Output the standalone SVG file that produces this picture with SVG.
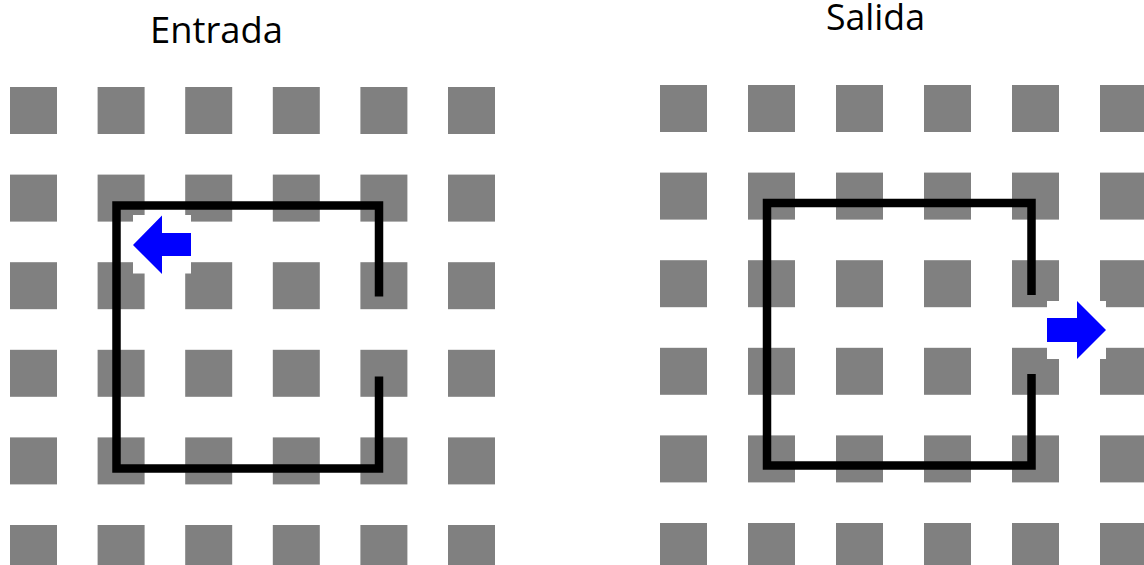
<svg xmlns="http://www.w3.org/2000/svg" width="1144" height="565" viewBox="0 0 1144 565">
<defs>
<style>
.sq{fill:#808080}
.path{fill:none;stroke:#000;stroke-width:8.5;stroke-linejoin:miter}
.arrow{fill:#0000ff}
.title{font-family:"Open Sans","Noto Sans",sans-serif;font-size:37px;fill:#000}
</style>
<rect id="s" width="47" height="47" class="sq"/>
<rect id="t" width="47" height="46.5" class="sq"/>
</defs>
<rect width="1144" height="565" fill="#fff"/>
<text class="title" x="150" y="43" textLength="133" lengthAdjust="spacingAndGlyphs">Entrada</text>
<text class="title" x="826" y="30" textLength="99" lengthAdjust="spacingAndGlyphs">Salida</text>
<g id="grid-left">
<g transform="translate(10,0)"><use href="#s" y="87"/><use href="#s" y="174.6"/><use href="#s" y="262.2"/><use href="#s" y="349.8"/><use href="#s" y="437.4"/><use href="#s" y="525"/></g>
<g transform="translate(97.6,0)"><use href="#s" y="87"/><use href="#s" y="174.6"/><use href="#s" y="262.2"/><use href="#s" y="349.8"/><use href="#s" y="437.4"/><use href="#s" y="525"/></g>
<g transform="translate(185.2,0)"><use href="#s" y="87"/><use href="#s" y="174.6"/><use href="#s" y="262.2"/><use href="#s" y="349.8"/><use href="#s" y="437.4"/><use href="#s" y="525"/></g>
<g transform="translate(272.8,0)"><use href="#s" y="87"/><use href="#s" y="174.6"/><use href="#s" y="262.2"/><use href="#s" y="349.8"/><use href="#s" y="437.4"/><use href="#s" y="525"/></g>
<g transform="translate(360.4,0)"><use href="#s" y="87"/><use href="#s" y="174.6"/><use href="#s" y="262.2"/><use href="#s" y="349.8"/><use href="#s" y="437.4"/><use href="#s" y="525"/></g>
<g transform="translate(448,0)"><use href="#s" y="87"/><use href="#s" y="174.6"/><use href="#s" y="262.2"/><use href="#s" y="349.8"/><use href="#s" y="437.4"/><use href="#s" y="525"/></g>
</g>
<g id="grid-right">
<g transform="translate(660,0)"><use href="#s" y="85"/><use href="#s" y="172.6"/><use href="#s" y="260.2"/><use href="#s" y="347.8"/><use href="#s" y="435.4"/><use href="#s" y="523"/></g>
<g transform="translate(748,0)"><use href="#s" y="85"/><use href="#s" y="172.6"/><use href="#s" y="260.2"/><use href="#s" y="347.8"/><use href="#s" y="435.4"/><use href="#s" y="523"/></g>
<g transform="translate(836,0)"><use href="#s" y="85"/><use href="#s" y="172.6"/><use href="#s" y="260.2"/><use href="#s" y="347.8"/><use href="#s" y="435.4"/><use href="#s" y="523"/></g>
<g transform="translate(924,0)"><use href="#s" y="85"/><use href="#s" y="172.6"/><use href="#s" y="260.2"/><use href="#s" y="347.8"/><use href="#s" y="435.4"/><use href="#s" y="523"/></g>
<g transform="translate(1012,0)"><use href="#s" y="85"/><use href="#s" y="172.6"/><use href="#s" y="260.2"/><use href="#s" y="347.8"/><use href="#s" y="435.4"/><use href="#s" y="523"/></g>
<g transform="translate(1100,0)"><use href="#s" y="85"/><use href="#s" y="172.6"/><use href="#s" y="260.2"/><use href="#s" y="347.8"/><use href="#s" y="435.4"/><use href="#s" y="523"/></g>
</g>
<g id="connectors">
<path class="path" d="M379,296.5 V205.5 H116.5 V468.5 H379 V376.5"/>
<path class="path" d="M1031.5,295 V203 H767 V465.5 H1031.5 V374"/>
</g>
<g id="arrow-in">
<rect x="133" y="215" width="58" height="58.5" fill="#fff"/>
<polygon class="arrow" points="133,245 162,215.5 162,233 191,233 191,256 162,256 162,274"/>
</g>
<g id="arrow-out">
<rect x="1047" y="301" width="59" height="58" fill="#fff"/>
<polygon class="arrow" points="1106,330 1077,301 1077,318 1047,318 1047,342 1077,342 1077,359"/>
</g>
</svg>
